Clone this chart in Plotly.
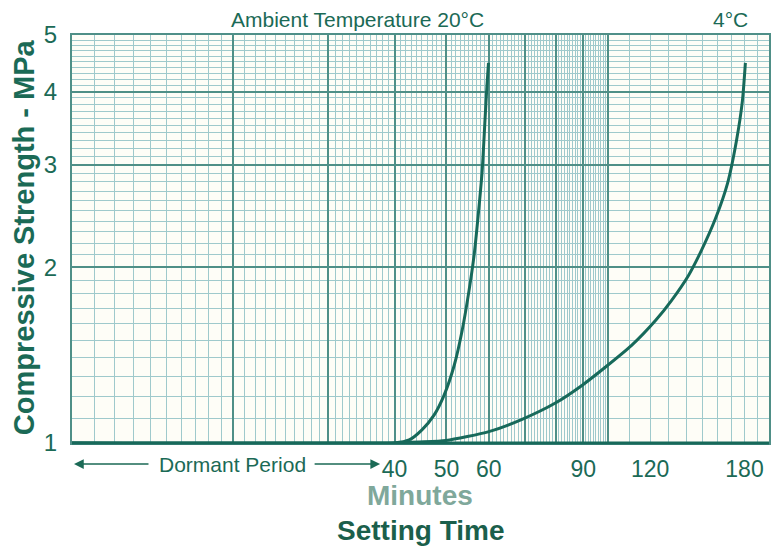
import plotly.graph_objects as go
import numpy as np

# ---- data ----
t20_minutes = [10, 40, 42.6, 45.0, 47.4, 49.5, 51.7, 53.5, 55.1, 56.3, 57.3, 58.3, 59.0, 59.5, 59.9]
t20_strength = [1.0, 1.0, 1.012, 1.053, 1.116, 1.208, 1.359, 1.560, 1.826, 2.096, 2.453, 2.929, 3.566, 4.093, 4.48]

t4_minutes = [10, 40, 44.5, 49.9, 60.0, 69.2, 80.0, 89.5, 100, 110.8, 122.9, 131.6, 141.5, 149.6, 158.9, 167.3, 173.9, 178.4, 180.7]
t4_strength = [1.0, 1.0, 1.004, 1.010, 1.046, 1.098, 1.172, 1.255, 1.359, 1.470, 1.623, 1.756, 1.937, 2.138, 2.424, 2.783, 3.296, 3.857, 4.48]

x_label_vals = [40, 50, 60, 90, 120, 180]
y_label_vals = [1, 2, 3, 4, 5]
x_major_grid = [20, 30, 40, 50, 60, 70, 80, 90, 100]
x_minor_grid = [v for v in range(11, 100) if v % 10 != 0] + [110, 120, 130, 140, 150, 160, 170, 180, 190]
y_major_grid = [2, 3, 4]
y_minor_grid = [round(1 + 0.1 * i, 2) for i in range(1, 40) if i % 10 != 0]

TEXT = "#1b6a56"
CURVE = "#17695a"
MAJ = "#4f8f87"
MIN = "#9fc9cc"
FONT = "Liberation Sans"

fig = go.Figure()
for xs, ys in [(t20_minutes, t20_strength), (t4_minutes, t4_strength)]:
    fig.add_trace(go.Scatter(x=xs, y=ys, mode="lines",
                             line=dict(color=CURVE, width=3, shape="spline", smoothing=0.6),
                             showlegend=False, hoverinfo="skip"))

xr = [np.log10(10), np.log10(200)]
yr = [0, np.log10(5)]

fig.update_layout(
    width=771, height=549,
    margin=dict(l=72, r=0, t=35, b=106),
    paper_bgcolor="white", plot_bgcolor="#fefdf7",
    font=dict(family=FONT, color=TEXT),
    xaxis=dict(type="log", range=xr, tickvals=x_major_grid, showticklabels=False,
               showgrid=True, gridcolor=MAJ, gridwidth=1.8, zeroline=False,
               minor=dict(tickvals=x_minor_grid, showgrid=True, gridcolor=MIN, gridwidth=1.4),
               showline=True, linecolor=MAJ, linewidth=2, mirror=True, ticks=""),
    xaxis2=dict(type="log", range=xr, overlaying="x", anchor="y", side="bottom",
                tickvals=x_label_vals, ticktext=[str(v) for v in x_label_vals],
                showgrid=False, zeroline=False, ticks="outside", ticklen=5,
                tickcolor="rgba(0,0,0,0)", tickfont=dict(size=23, color=TEXT, family=FONT)),
    yaxis=dict(type="log", range=yr, tickvals=y_label_vals, ticktext=[str(v) for v in y_label_vals],
               showgrid=False, zeroline=False, ticks="outside", ticklen=8,
               tickcolor="rgba(0,0,0,0)", tickfont=dict(size=24, color=TEXT, family=FONT),
               showline=True, linecolor=MAJ, linewidth=2, mirror=True),
    yaxis2=dict(type="log", range=yr, overlaying="y", anchor="x", tickvals=y_major_grid,
                showticklabels=False, showgrid=True, gridcolor=MAJ, gridwidth=1.8, zeroline=False,
                minor=dict(tickvals=y_minor_grid, showgrid=True, gridcolor=MIN, gridwidth=1.4), ticks=""),
)
# invisible traces so the overlay axes are drawn
fig.add_trace(go.Scatter(x=[50], y=[2], xaxis="x2", yaxis="y", mode="markers",
                         marker=dict(opacity=0), showlegend=False, hoverinfo="skip"))
fig.add_trace(go.Scatter(x=[50], y=[2], xaxis="x", yaxis="y2", mode="markers",
                         marker=dict(opacity=0), showlegend=False, hoverinfo="skip"))

# thick bottom line
fig.add_shape(type="line", xref="paper", yref="paper", x0=0, x1=1, y0=0, y1=0,
              line=dict(color=CURVE, width=3))

ann = [
    dict(text="Ambient Temperature 20°C", x=358, y=20, size=21, bold=False, color=TEXT),
    dict(text="4°C", x=732, y=20, size=21, bold=False, color=TEXT),
    dict(text="Dormant Period", x=233, y=464, size=21, bold=False, color=TEXT),
    dict(text="Minutes", x=421, y=495, size=28, bold=True, color="#7fa89b"),
    dict(text="Setting Time", x=422, y=530, size=28, bold=True, color="#1b5f4b"),
]
for a in ann:
    txt = f"<b>{a['text']}</b>" if a["bold"] else a["text"]
    fig.add_annotation(text=txt, xref="paper", yref="paper",
                       x=(a["x"] - 72) / 699, y=(443 - a["y"]) / 408,
                       xanchor="center", yanchor="middle", showarrow=False,
                       font=dict(size=a["size"], color=a["color"], family=FONT))

fig.add_annotation(text="<b>Compressive Strength - MPa</b>", xref="paper", yref="paper",
                   x=(24 - 72) / 699, y=(443 - 237) / 408, textangle=-90,
                   xanchor="center", yanchor="middle", showarrow=False,
                   font=dict(size=29, color=TEXT, family=FONT))

# arrows
for head, tail in [(74, 150), (381, 314)]:
    fig.add_annotation(text="", xref="paper", yref="paper",
                       x=(head - 72) / 699, y=(443 - 464) / 408,
                       ax=tail - head, ay=0, axref="pixel", ayref="pixel",
                       showarrow=True, arrowhead=2, arrowsize=1.3, arrowwidth=1.5,
                       arrowcolor=TEXT)

fig.write_html("out.html", config={"displayModeBar": False},
               post_script="document.body.style.margin='0px';")
